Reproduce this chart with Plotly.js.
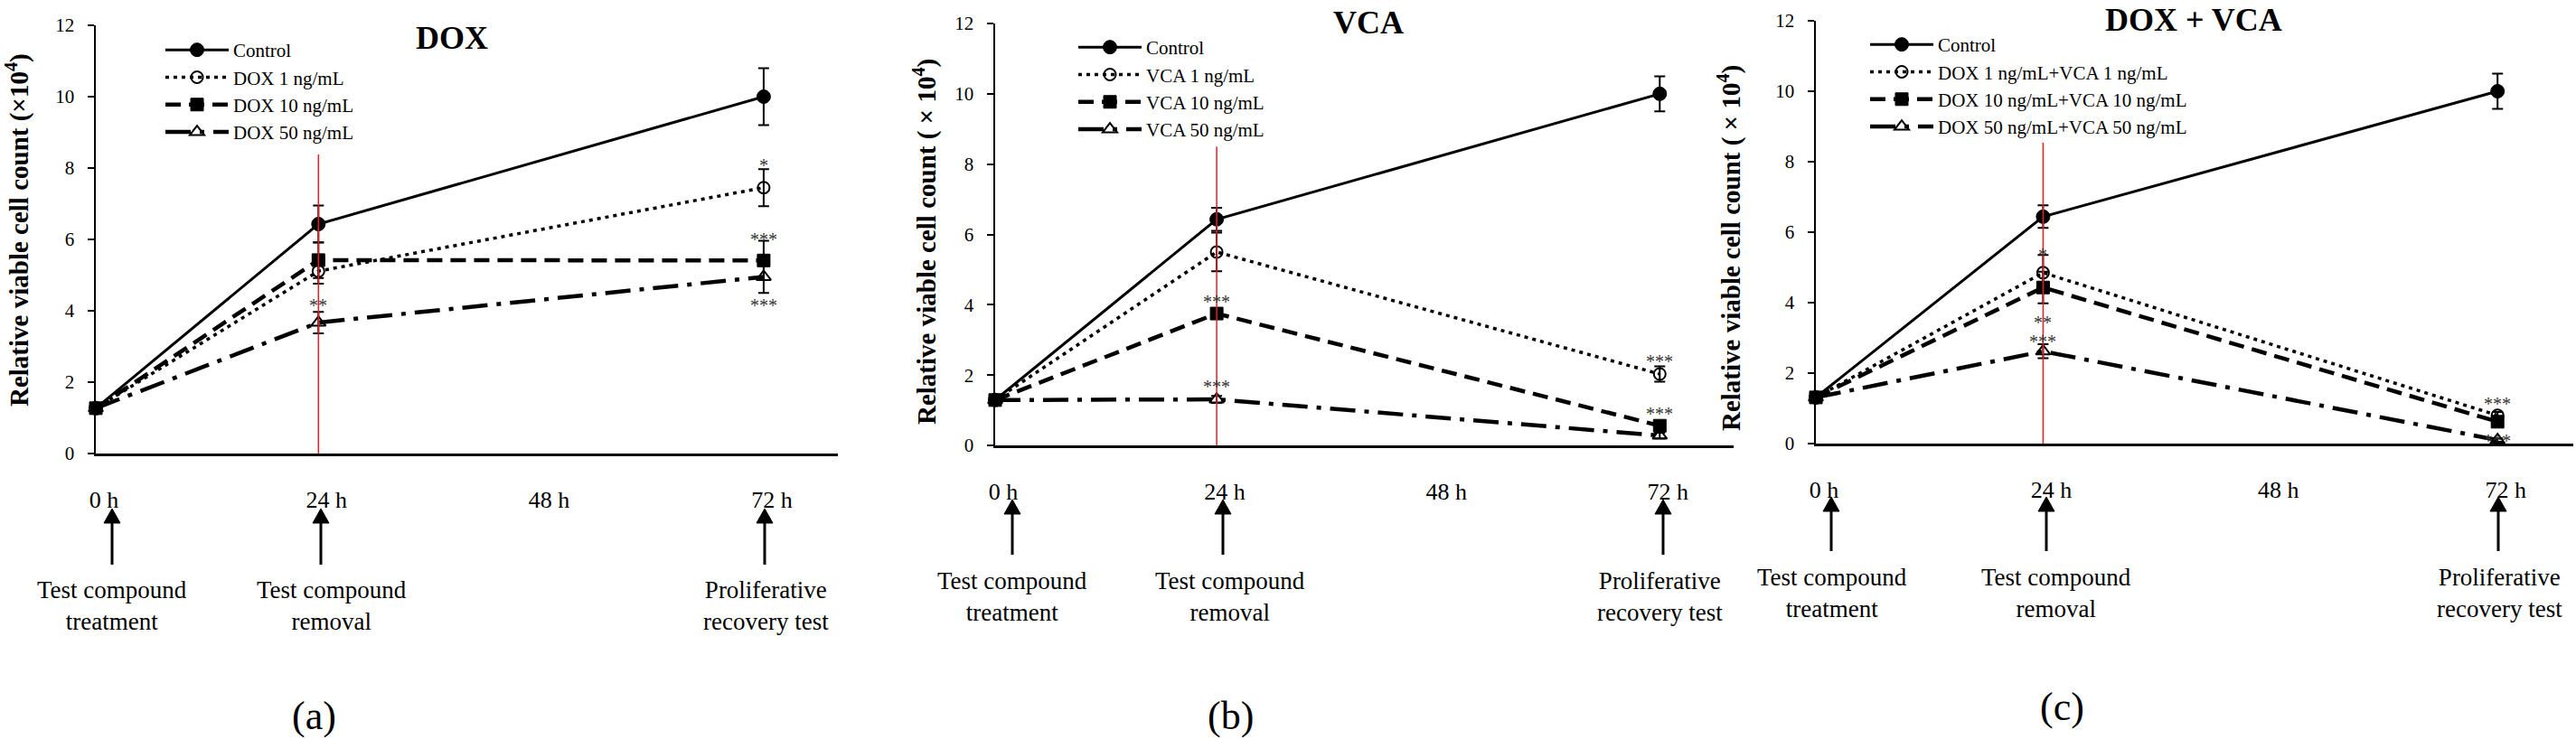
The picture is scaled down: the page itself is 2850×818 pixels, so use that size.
<!DOCTYPE html>
<html>
<head>
<meta charset="utf-8">
<script src="https://cdn.plot.ly/plotly-3.0.1.min.js"></script>
<style>html,body{margin:0;padding:0;background:#fff;}#chart{width:2850px;height:818px;}</style>
</head>
<body>
<div id="chart"></div>
<script>
// ---------- data ----------
const hours = [0, 24, 72];
const tickHours = [0, 24, 48, 72];
const tickLabels = ['0 h', '24 h', '48 h', '72 h'];

// Panel (a) DOX
const namesA = ['Control', 'DOX 1 ng/mL', 'DOX 10 ng/mL', 'DOX 50 ng/mL'];
const ctrlA = [1.27, 6.43, 10.0];   const ctrlAErr = [0, 0.52, 0.8];
const dox1 = [1.27, 5.11, 7.45];    const dox1Err = [0, 0.35, 0.52];
const dox10 = [1.27, 5.42, 5.41];   const dox10Err = [0, 0.5, 0.55];
const dox50 = [1.27, 3.67, 4.95];   const dox50Err = [0, 0.3, 0.45];

// Panel (b) VCA
const namesB = ['Control', 'VCA 1 ng/mL', 'VCA 10 ng/mL', 'VCA 50 ng/mL'];
const ctrlB = [1.29, 6.43, 10.0];   const ctrlBErr = [0, 0.33, 0.5];
const vca1 = [1.29, 5.5, 2.03];     const vca1Err = [0, 0.55, 0.22];
const vca10 = [1.29, 3.75, 0.56];   const vca10Err = [0, 0.15, 0.12];
const vca50 = [1.29, 1.31, 0.28];   const vca50Err = [0, 0.1, 0.08];

// Panel (c) DOX + VCA
const namesC = ['Control', 'DOX 1 ng/mL+VCA 1 ng/mL', 'DOX 10 ng/mL+VCA 10 ng/mL', 'DOX 50 ng/mL+VCA 50 ng/mL'];
const ctrlC = [1.31, 6.44, 10.0];   const ctrlCErr = [0, 0.32, 0.5];
const combo1 = [1.31, 4.85, 0.8];   const combo1Err = [0, 0.5, 0.1];
const combo10 = [1.31, 4.43, 0.62]; const combo10Err = [0, 0.45, 0.1];
const combo50 = [1.31, 2.62, 0.1];  const combo50Err = [0, 0.2, 0.05];

// significance marks: [hour, y position, text]
const sigA = [[24, 4.28, '**'], [72, 8.2, '*'], [72, 6.13, '***'], [72, 4.28, '***']];
const sigB = [[24, 4.22, '***'], [24, 1.8, '***'], [72, 2.52, '***'], [72, 1.03, '***'], [72, -0.26, '***']];
const sigC = [[24, 5.49, '*'], [24, 3.56, '**'], [24, 3.03, '***'], [72, 1.26, '***'], [72, 0.2, '***'], [72, -0.28, '***']];

const panelTitles = ['DOX', 'VCA', 'DOX + VCA'];
const panelLetters = ['(a)', '(b)', '(c)'];
const yTitles = ['Relative viable cell count (×10<sup>4</sup>)',
                 'Relative viable cell count ( × 10<sup>4</sup>)',
                 'Relative viable cell count ( × 10<sup>4</sup>)'];
const eventLabels = ['Test compound<br>treatment', 'Test compound<br>removal', 'Proliferative<br>recovery test'];

// ---------- layout helpers ----------
const W = 2850, H = 818;
const px = v => v / W;
const py = v => 1 - v / H;
const FONT = 'Liberation Serif, Times New Roman, serif';

const styles = [
  {dash: 'solid', width: 3, symbol: 'circle', size: 15, lw: 1},
  {dash: '4px,5px', width: 3.5, symbol: 'circle-open', size: 13, lw: 2},
  {dash: '17px,9px', width: 4.5, symbol: 'square', size: 14, lw: 1},
  {dash: '28px,10px,5px,10px', width: 4.5, symbol: 'triangle-up-open', size: 14, lw: 2}
];

const panels = [
  {names: namesA, ys: [ctrlA, dox1, dox10, dox50], errs: [ctrlAErr, dox1Err, dox10Err, dox50Err], sig: sigA,
   x0: 106, x1: 927, yb: 502, yt: 28, redTop: 8.38, title: [500, 42], letter: [347, 792], ytitle: [20, 255],
   legend: [178, 35], arrowX: [124, 355, 846], arrowTip: 563, arrowTail: 625, labelY: 670, labelX: [124, 367, 847]},
  {names: namesB, ys: [ctrlB, vca1, vca10, vca50], errs: [ctrlBErr, vca1Err, vca10Err, vca50Err], sig: sigB,
   x0: 1101, x1: 1918, yb: 493, yt: 26, redTop: 8.5, title: [1514, 25], letter: [1361, 792], ytitle: [1023, 268],
   legend: [1188, 32], arrowX: [1120, 1353, 1840], arrowTip: 553, arrowTail: 614, labelY: 660, labelX: [1120, 1361, 1836]},
  {names: namesC, ys: [ctrlC, combo1, combo10, combo50], errs: [ctrlCErr, combo1Err, combo10Err, combo50Err], sig: sigC,
   x0: 2009, x1: 2847, yb: 491, yt: 23, redTop: 8.54, title: [2427, 22], letter: [2281, 782], ytitle: [1913, 275],
   legend: [2064, 29], arrowX: [2026, 2264, 2764], arrowTip: 550, arrowTail: 610, labelY: 656, labelX: [2027, 2275, 2765]}
];

const traces = [];
const layout = {
  width: W, height: H,
  margin: {l: 0, r: 0, t: 0, b: 0},
  paper_bgcolor: '#fff', plot_bgcolor: '#fff',
  font: {family: FONT, color: '#000'},
  showlegend: true,
  shapes: [], annotations: []
};

function paperText(x, y, text, size, extra) {
  return Object.assign({xref: 'paper', yref: 'paper', x: px(x), y: py(y), text: text,
    showarrow: false, xanchor: 'center', yanchor: 'middle',
    font: {family: FONT, size: size, color: '#000'}}, extra || {});
}

panels.forEach((p, i) => {
  const n = i === 0 ? '' : String(i + 1);
  const xa = 'x' + n, ya = 'y' + n;
  const legId = 'legend' + n;
  layout['xaxis' + n] = {
    domain: [px(p.x0), px(p.x1)], range: [0, 80], anchor: ya,
    showline: true, linecolor: '#000', linewidth: 2.5, mirror: false,
    ticks: '', tickvals: tickHours, ticktext: tickLabels,
    tickfont: {family: FONT, size: 26, color: '#000'},
    ticklabelstandoff: 26, ticklabelshift: 9,
    showgrid: false, zeroline: false, fixedrange: true
  };
  layout['yaxis' + n] = {
    domain: [py(p.yb), py(p.yt)], range: [0, 12], dtick: 2, anchor: xa,
    showline: true, linecolor: '#000', linewidth: 2.5,
    ticks: 'outside', ticklen: 7, tickwidth: 2, tickcolor: '#000',
    tickfont: {family: FONT, size: 21, color: '#000'}, ticklabelstandoff: 10,
    showgrid: false, zeroline: false, fixedrange: true
  };
  layout[legId] = {
    x: px(p.legend[0]), y: py(p.legend[1]), xanchor: 'left', yanchor: 'top',
    bgcolor: 'rgba(0,0,0,0)', borderwidth: 0, itemwidth: 70,
    font: {family: FONT, size: 21, color: '#000'}, tracegroupgap: 0,
    traceorder: 'normal'
  };
  p.ys.forEach((yv, k) => {
    const s = styles[k];
    traces.push({
      type: 'scatter', mode: 'lines+markers', x: hours, y: yv,
      xaxis: xa, yaxis: ya, legend: legId, name: p.names[k],
      cliponaxis: false,
      line: {color: '#000', width: s.width, dash: s.dash},
      marker: {symbol: s.symbol, size: s.size, color: '#000', line: {color: '#000', width: s.lw}},
      error_y: {type: 'data', array: p.errs[k], visible: true, color: '#000', thickness: 2, width: 6}
    });
  });
  // red vertical line at 24 h
  layout.shapes.push({type: 'line', xref: xa, yref: ya, x0: 24, x1: 24, y0: 0, y1: p.redTop,
    line: {color: '#ee1c25', width: 1.5}});
  // significance marks
  p.sig.forEach(s => layout.annotations.push({
    xref: xa, yref: ya, x: s[0], y: s[1], text: s[2], showarrow: false, yshift: -5,
    xanchor: 'center', yanchor: 'middle',
    font: {family: FONT, size: 20, color: '#333'}
  }));
  layout.annotations.push(paperText(p.title[0], p.title[1], '<b>' + panelTitles[i] + '</b>', 36));
  layout.annotations.push(paperText(p.letter[0], p.letter[1], panelLetters[i], 44));
  layout.annotations.push(paperText(p.ytitle[0], p.ytitle[1], '<b>' + yTitles[i] + '</b>', 29, {textangle: -90}));
  // event arrows (shaft + head) and labels
  p.arrowX.forEach((ax, k) => {
    const headLen = 16, headHalf = 9;
    layout.shapes.push({type: 'line', xref: 'paper', yref: 'paper',
      x0: px(ax), x1: px(ax), y0: py(p.arrowTip + headLen - 2), y1: py(p.arrowTail),
      line: {color: '#000', width: 3}});
    layout.shapes.push({type: 'path', xref: 'paper', yref: 'paper',
      path: 'M' + px(ax - headHalf) + ',' + py(p.arrowTip + headLen) +
            ' L' + px(ax) + ',' + py(p.arrowTip) +
            ' L' + px(ax + headHalf) + ',' + py(p.arrowTip + headLen) + ' Z',
      fillcolor: '#000', line: {color: '#000', width: 1}});
    layout.annotations.push(paperText(p.labelX[k], p.labelY, eventLabels[k], 27, {align: 'center'}));
  });
});

Plotly.newPlot('chart', traces, layout, {staticPlot: true, displayModeBar: false});
</script>
</body>
</html>
